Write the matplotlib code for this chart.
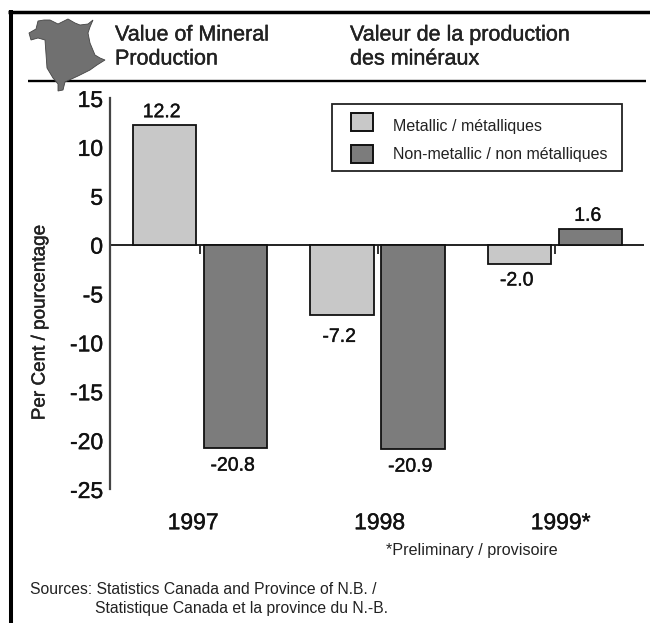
import matplotlib
matplotlib.use('Agg')
import matplotlib.pyplot as plt
import matplotlib.patheffects as pe
import numpy as np
from matplotlib.patches import Polygon, Rectangle

plt.rcParams['font.family'] = ['Liberation Sans', 'DejaVu Sans']

# data
years = ['1997', '1998', '1999*']
metallic = [12.2, -7.2, -2.0]
non_metallic = [-20.8, -20.9, 1.6]
yticks = [15, 10, 5, 0, -5, -10, -15, -20, -25]

INK = '#222222'
LIGHT = '#c8c8c8'
DARK = '#7c7c7c'
heavy = [pe.withStroke(linewidth=0.3, foreground=INK)]

W, H = 650, 623
fig = plt.figure(figsize=(W / 100, H / 100), dpi=100)

# overlay in pixel coords for the frame, header and map
bg = fig.add_axes([0, 0, 1, 1])
bg.set_xlim(0, W)
bg.set_ylim(H, 0)
bg.axis('off')
bg.plot([10.5, 10.5], [10, H], color='black', lw=2.9, solid_capstyle='butt')
bg.plot([8, W], [12, 12], color='black', lw=2.5, solid_capstyle='butt')
bg.plot([28, 646], [80.7, 80.7], color='black', lw=1.7, solid_capstyle='butt')

nb_map = [(29, 33), (36, 29), (38, 21), (44, 20), (50, 20), (58, 24), (68, 19), (75, 23),
          (80, 25), (88, 24), (93, 20), (90, 27), (88, 33), (90, 43), (95, 55), (100, 58),
          (105, 60), (97, 65), (90, 70), (78, 76), (65, 82), (63, 90), (58, 91), (58, 84),
          (53, 78), (47, 68), (45, 40), (38, 38), (31, 40)]
bg.add_patch(Polygon(nb_map, closed=True, facecolor='#707070', edgecolor='#444444', lw=0.6, zorder=3))

for tx, ty, s in [(115, 35, 'Value of Mineral'), (115, 59, 'Production'),
                  (350, 35, 'Valeur de la production'), (350, 59, 'des minéraux')]:
    bg.text(tx, ty, s, fontsize=15.5, va='center', color=INK, path_effects=heavy)

# legend box
bg.add_patch(Rectangle((332, 104), 290, 67, facecolor='white', edgecolor=INK, lw=1.3))
bg.add_patch(Rectangle((351, 113), 22, 18, facecolor=LIGHT, edgecolor='#111111', lw=1.4))
bg.add_patch(Rectangle((351, 145), 22, 18, facecolor=DARK, edgecolor='#111111', lw=1.4))
bg.text(393, 127, 'Metallic / métalliques', fontsize=11.5, va='center', color=INK)
bg.text(393, 155, 'Non-metallic / non métalliques', fontsize=11.5, va='center', color=INK)

bg.text(386, 551, '*Preliminary / provisoire', fontsize=11.6, va='center', color=INK)
bg.text(30, 589, 'Sources: Statistics Canada and Province of N.B. /', fontsize=11.3, va='center', color=INK)
bg.text(95, 608, 'Statistique Canada et la province du N.-B.', fontsize=11.3, va='center', color=INK)
bg.text(40, 323, 'Per Cent / pourcentage', fontsize=13.6, rotation=90, ha='center', va='center', color=INK,
        path_effects=heavy)

# chart
ax = fig.add_axes([110 / W, 1 - 489 / H, (644 - 110) / W, (489 - 98) / H])
ax.patch.set_alpha(0)
x = np.arange(len(years))
width = 0.358
offset = 0.2
ax.bar(x - offset, metallic, width, color=LIGHT, edgecolor='#111111', lw=1.3, zorder=3)
ax.bar(x + offset, non_metallic, width, color=DARK, edgecolor='#111111', lw=1.3, zorder=3)

ax.set_xlim(-0.507, 2.501)
ax.set_ylim(-25, 15)
for s in ['top', 'right', 'bottom']:
    ax.spines[s].set_visible(False)
ax.spines['left'].set_linewidth(1.6)
ax.spines['left'].set_color('#444444')
ax.axhline(0, color='#222222', lw=1.4)
ax.set_yticks(yticks)
ax.set_yticklabels([str(v) for v in yticks], fontsize=16.5, color='#111111', path_effects=heavy)
ax.tick_params(axis='y', length=0, pad=5)
ax.set_xticks([])
ax.vlines(x, -1.0, 0, color='#222222', lw=1.3)

def value_labels(vals, xs, extra):
    for xi, v, dy in zip(xs, vals, extra):
        up = v > 0
        ax.annotate(f'{v:.1f}', (xi, v), xytext=(-2, 3 + dy if up else -3 - dy), textcoords='offset points',
                    ha='center', va='bottom' if up else 'top', fontsize=14, color='#111111', path_effects=heavy)

value_labels(metallic, x - offset, [0, 7, 3])
value_labels(non_metallic, x + offset, [4, 4, 0])

for xi, y, dx in zip(x, years, [-5, 1.5, 4]):
    ax.annotate(y, (xi, -25), xytext=(dx, -16), textcoords='offset points', ha='center', va='top',
                fontsize=16.5, color='#111111', annotation_clip=False, path_effects=heavy)

fig.savefig('out.png', dpi=100)
plt.close()
